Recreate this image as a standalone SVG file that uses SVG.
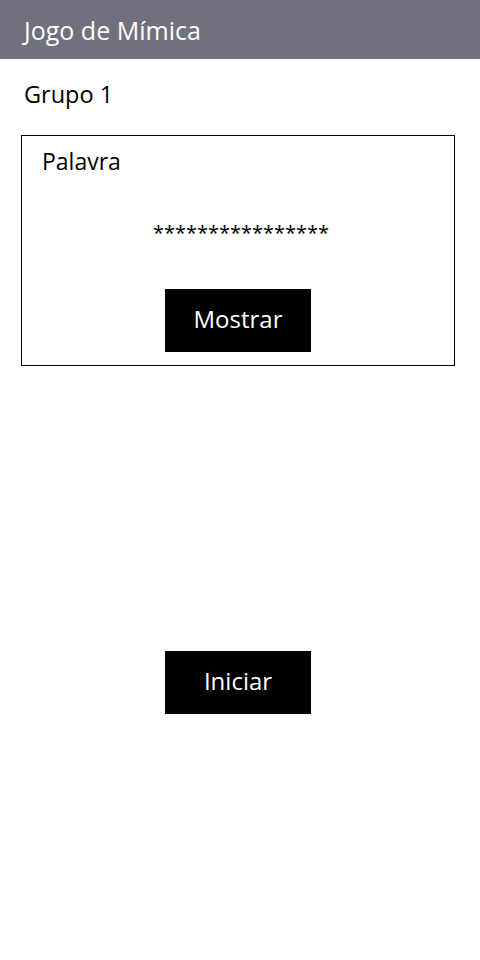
<svg xmlns="http://www.w3.org/2000/svg" width="480" height="960" viewBox="0 0 480 960">
<style>
text{font-family:"Open Sans","Noto Sans","DejaVu Sans",sans-serif;font-size:24px;fill:#000}
.w{fill:#fff}
.c{text-anchor:middle}
.btn{fill:#000}
</style>
<rect width="480" height="960" fill="#fff"/>
<g id="header">
<rect x="0" y="0" width="480" height="59" fill="#71717e"/>
<text class="w" x="24" y="40" style="font-size:25px">Jogo de Mímica</text>
</g>
<g id="grupo"><text x="24" y="103" style="font-size:23.5px">Grupo 1</text></g>
<g id="palavra-card">
<rect x="21.5" y="135.5" width="433" height="230" fill="none" stroke="#000" stroke-width="1"/>
<text x="42" y="170" style="font-size:23px">Palavra</text>
<text class="c" x="241" y="240" style="font-size:20px">****************</text>
</g>
<g id="mostrar">
<rect class="btn" x="165" y="289" width="146" height="63"/>
<text class="w c" x="238" y="328">Mostrar</text>
</g>
<g id="iniciar">
<rect class="btn" x="165" y="651" width="146" height="63"/>
<text class="w c" x="238" y="690">Iniciar</text>
</g>
<g id="connectors"/>
</svg>
